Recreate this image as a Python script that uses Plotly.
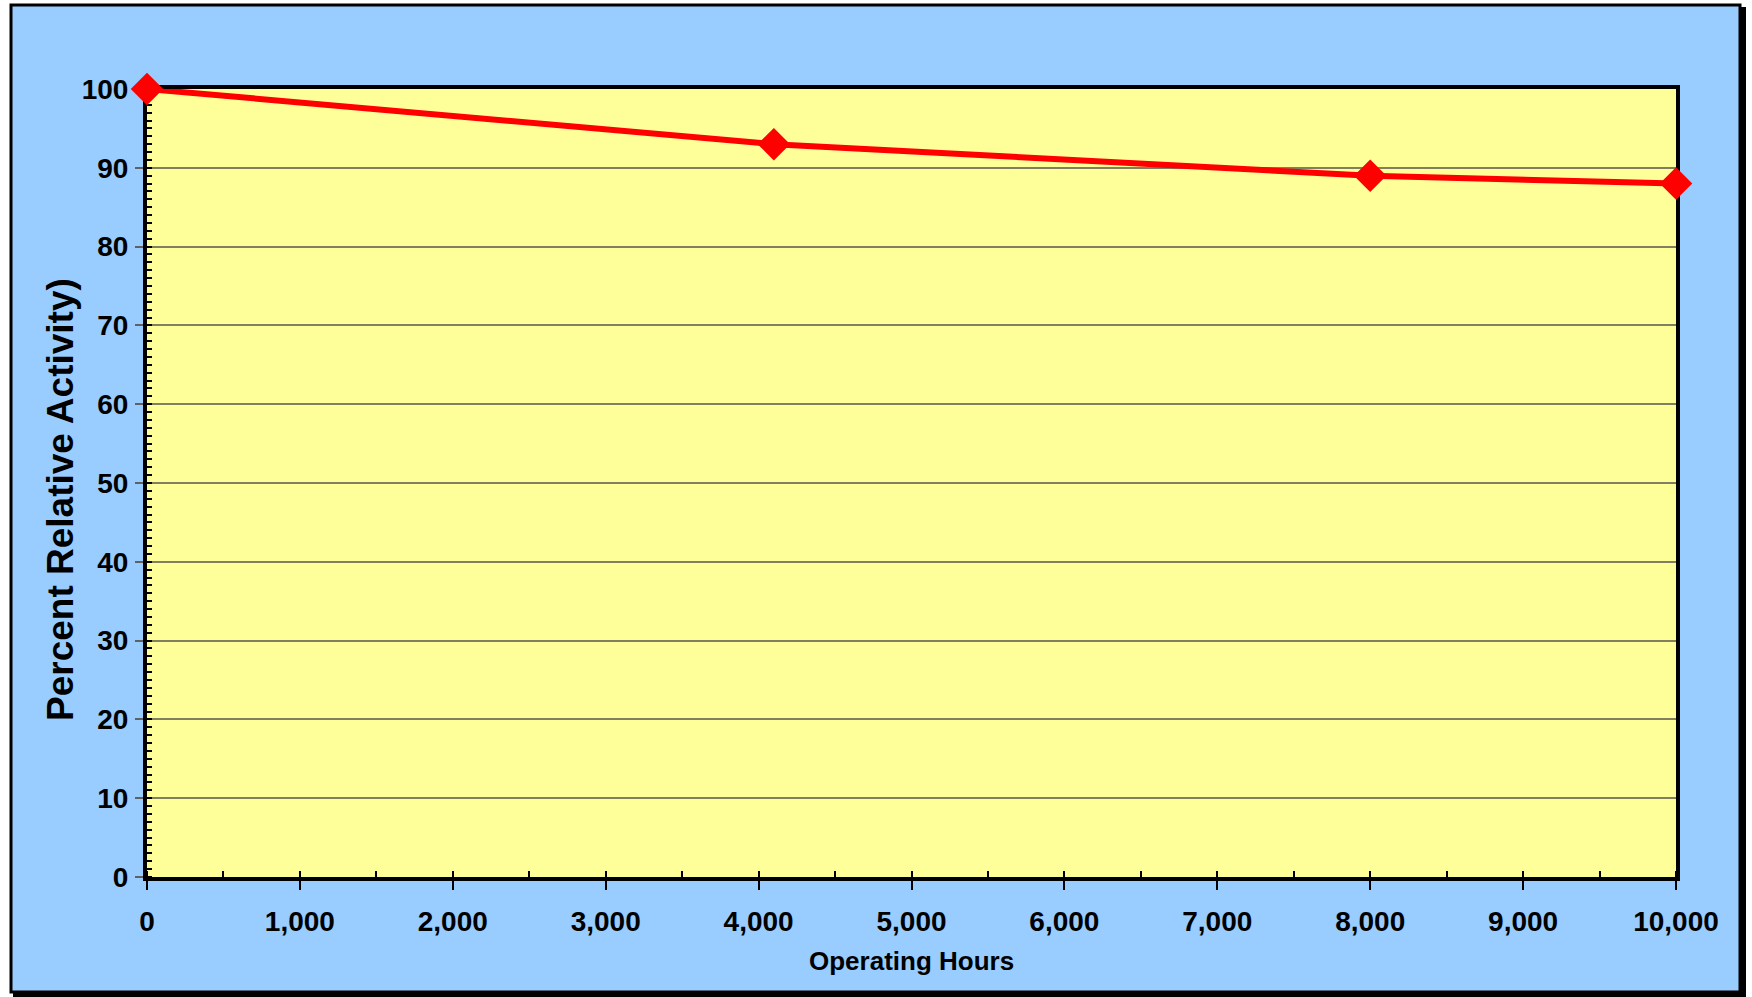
import plotly.graph_objects as go

# Catalyst activity versus operating time
hours = [0, 4100, 8000, 10000]
activity = [100, 93, 89, 88]

x_title = "Operating Hours"
y_title = "Percent Relative Activity)"

W, H = 1752, 997
L, R, T, B = 147, 76, 89, 120
PW, PH = W - L - R, H - T - B


def px_x(px):
    return (px - L) / PW


def px_y(py):
    return (H - B - py) / PH


tick_font = dict(family="Liberation Sans Narrow, Arial Narrow, Liberation Sans, Arial, sans-serif",
                 size=28, color="black", weight="bold")
x_title_font = dict(family="Liberation Sans, Arial, sans-serif", size=26, color="black", weight="bold")
y_title_font = dict(family="Liberation Sans, Arial, sans-serif", size=37, color="black", weight="bold")

fig = go.Figure()
fig.add_trace(go.Scatter(
    x=hours, y=activity, mode="lines+markers",
    line=dict(color="#FF0000", width=6),
    marker=dict(symbol="diamond", size=25, color="#FF0000", line=dict(width=0)),
    cliponaxis=False, showlegend=False,
))

shapes = [
    # drop shadow of the outer frame
    dict(type="rect", xref="paper", yref="paper", layer="below",
         x0=px_x(13), x1=px_x(1746), y0=px_y(997), y1=px_y(7),
         fillcolor="black", line=dict(width=0)),
    # blue chart background with black frame
    dict(type="rect", xref="paper", yref="paper", layer="below",
         x0=px_x(11), x1=px_x(1740), y0=px_y(992), y1=px_y(5),
         fillcolor="#99CCFF", line=dict(color="black", width=3)),
    # pale yellow plot area
    dict(type="rect", xref="paper", yref="paper", layer="below",
         x0=0, x1=1, y0=0, y1=1, fillcolor="#FFFF99", line=dict(width=0)),
]

annotations = [
    dict(text=y_title, xref="paper", yref="paper", x=px_x(60), y=px_y(500),
         xanchor="center", yanchor="middle", textangle=-90, showarrow=False,
         font=y_title_font),
    dict(text=x_title, xref="paper", yref="paper", x=px_x(911), y=px_y(961),
         xanchor="center", yanchor="middle", showarrow=False,
         font=x_title_font),
]

fig.update_layout(
    width=W, height=H,
    margin=dict(l=L, r=R, t=T, b=B, pad=0),
    paper_bgcolor="white",
    plot_bgcolor="rgba(0,0,0,0)",
    shapes=shapes,
    annotations=annotations,
)

fig.update_xaxes(
    range=[0, 10000], dtick=1000, tick0=0, tickformat=",",
    showline=True, linecolor="black", linewidth=4, mirror=True,
    showgrid=False, zeroline=False,
    ticks="outside", ticklen=9, tickwidth=1.5, tickcolor="black",
    minor=dict(dtick=500, ticks="inside", ticklen=6, tickwidth=1.5, tickcolor="black", showgrid=False),
    tickfont=tick_font, ticklabelstandoff=7,
    layer="below traces",
)
fig.update_yaxes(
    range=[0, 100], dtick=10, tick0=0,
    showline=True, linecolor="black", linewidth=4, mirror=True,
    showgrid=True, gridcolor="#808060", gridwidth=2, zeroline=False,
    ticks="outside", ticklen=8, tickwidth=1.5, tickcolor="#606060",
    minor=dict(dtick=1, ticks="inside", ticklen=5, tickwidth=1.5, tickcolor="black", showgrid=False),
    tickfont=tick_font, ticklabelstandoff=1,
    layer="below traces",
)

fig.write_html("out.html")
